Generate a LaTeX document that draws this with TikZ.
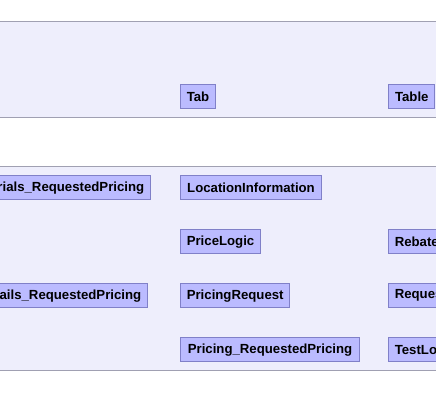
\documentclass[tikz,border=0pt]{standalone}
\usepackage{fontspec}
\setmainfont{Liberation Sans}
\usetikzlibrary{positioning}
\definecolor{bandfill}{RGB}{238,238,252}
\definecolor{bandline}{RGB}{160,160,178}
\definecolor{boxfill}{RGB}{187,187,255}
\definecolor{boxline}{RGB}{128,128,200}
\tikzset{
	cls/.style={draw=boxline, fill=boxfill, line width=1pt, anchor=north west,
		minimum height=24pt, inner xsep=6pt, inner ysep=0pt,
		font=\bfseries\fontsize{13.2}{15}\selectfont, text=black},
	clsleft/.style={cls, anchor=north east, text width=200pt, align=right},
	clsright/.style={cls, text width=80pt, align=left},
	band/.style={fill=bandfill, draw=none},
	bandedge/.style={draw=bandline, line width=1pt}
}
\begin{document}
\begin{tikzpicture}[x=1pt, y=-1pt]
				\useasboundingbox (0,0) rectangle (436,408);
				\fill[white] (0,0) rectangle (436,408);
				
				\fill[band] (-5,21) rectangle (441,117);
				\draw[bandedge] (-5,21) -- (441,21);
				\draw[bandedge] (-5,117) -- (441,117);
				
				\fill[band] (-5,166) rectangle (441,370.5);
				\draw[bandedge] (-5,166) -- (441,166);
				\draw[bandedge] (-5,370.5) -- (441,370.5);
				
				\node[cls, minimum width=33pt] (tab) at (180.3,84.3) {Tab};
				\node[cls, minimum width=46pt] (table) at (388.3,84.3) {Table};
				
				\node[clsleft] (matpricing) at (150.7,175.3) {rials\_RequestedPricing};
				\node[clsleft] (detpricing) at (147.7,283.3) {ails\_RequestedPricing};
				
				\node[cls, minimum width=140.4pt] (location) at (180.3,175.3) {LocationInformation};
				\node[cls, minimum width=79.4pt] (pricelogic) at (180.3,229.3) {PriceLogic};
				\node[cls, minimum width=107.4pt] (pricingreq) at (180.3,283.3) {PricingRequest};
				\node[cls, minimum width=178.4pt] (reqpricing) at (180.3,337.3) {Pricing\_RequestedPricing};
				
				\node[clsright] (rebate) at (388.3,229.3) {Rebate};
				\node[clsright] (request) at (388.3,283.3) {Reques};
				\node[clsright] (testlo) at (388.3,337.3) {TestLo};
			\end{tikzpicture}
\end{document}
